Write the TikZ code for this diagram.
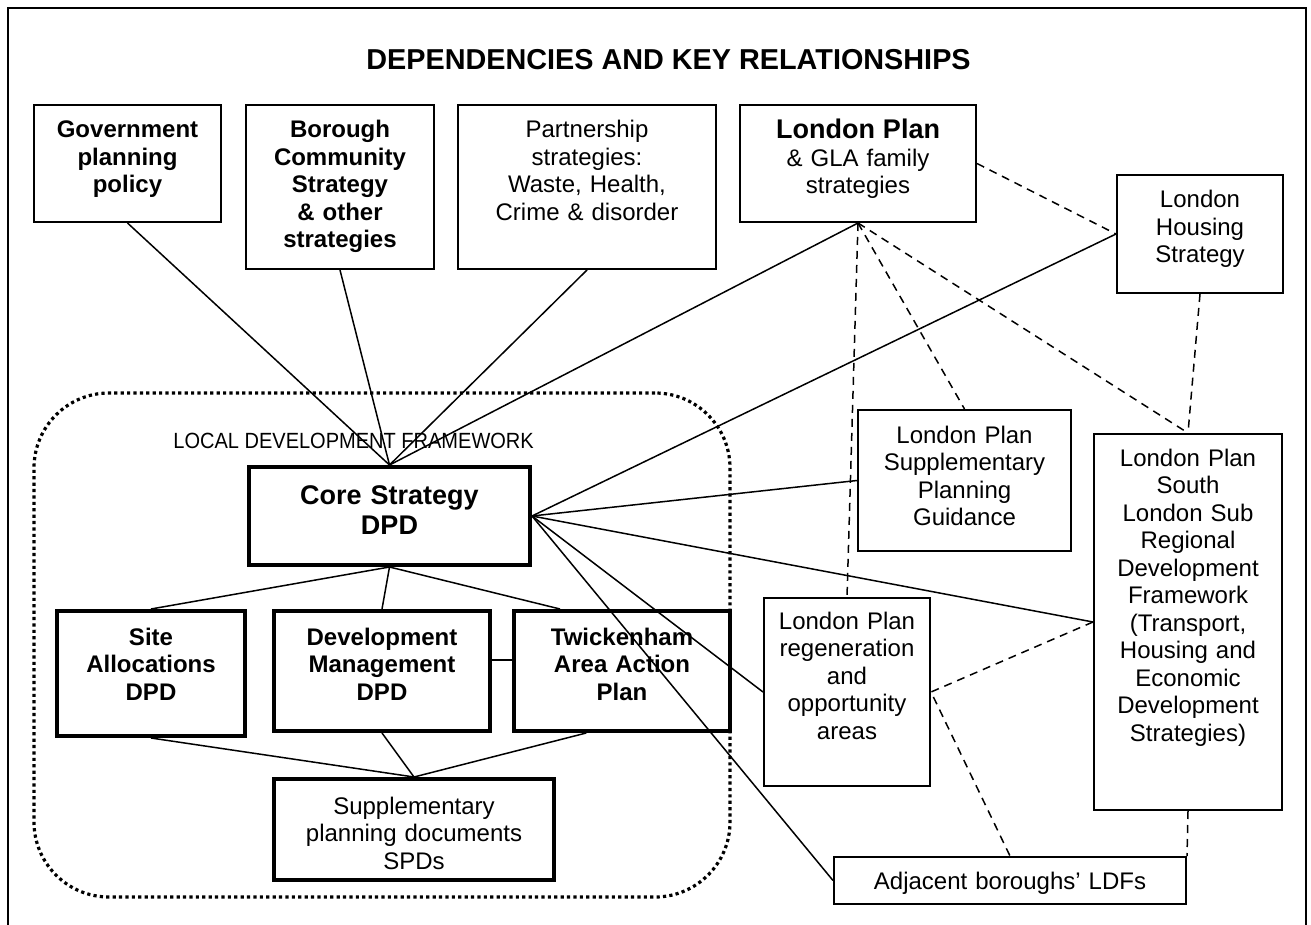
\documentclass[tikz,border=0pt]{standalone}
\usepackage{fontspec}
\setmainfont{Liberation Sans}
\newfontfamily\narrowfont[FakeStretch=0.91]{Liberation Sans}

\begin{document}
\begin{tikzpicture}[x=0.5pt, y=-0.5pt,
    box/.style={draw, line width=1pt, anchor=north, align=center, inner sep=0pt, text height=16.5pt, font=\fontsize{12}{13.75}\selectfont},
    bbox/.style={box, font=\fontsize{12}{13.75}\selectfont\bfseries},
    thickbox/.style={box, line width=2pt},
    link/.style={line width=0.75pt},
    dlink/.style={line width=0.75pt, dash pattern=on 4pt off 3pt}]
    %tikz dependencies
    \useasboundingbox (0,0) rectangle (1311,925);
    \draw[line width=1pt] (8,925) -- (8,8) -- (1306,8) -- (1306,925);
    \node[anchor=base, font=\fontsize{14.4}{16}\selectfont\bfseries] at (668.5,70) (T){DEPENDENCIES AND KEY RELATIONSHIPS};
    \node[draw, line width=1.6pt, dash pattern=on 1.6pt off 1.6pt, rounded corners=37.5pt, minimum width=348pt, minimum height=252pt] at (382,645) (LDF){};
    \node[anchor=base west, inner sep=0pt, font=\narrowfont\fontsize{11}{13}\selectfont] at (173,448) (LDFt){LOCAL DEVELOPMENT FRAMEWORK};
    % top row
    \node[bbox, text width=93.5pt, text depth=42pt] at (127.5,104) (Gov){Government\\planning\\policy};
    \node[bbox, text width=94pt, text depth=65.5pt] at (340,104) (Bor){Borough\\Community\\Strategy\\\& other\\strategies};
    \node[box, text width=129pt, text depth=65.5pt] at (587,104) (Part){Partnership\\strategies:\\Waste, Health,\\Crime \& disorder};
    \node[box, text width=118pt, text height=17pt, text depth=41.5pt] at (858,104) (LP){{\fontsize{13.5}{15}\selectfont\bfseries London Plan}\\\& GLA family\\strategies};
    \node[box, text width=83pt, text depth=42.5pt] at (1200,174) (LHS){London\\Housing\\Strategy};
    % london plan family
    \node[box, text width=106.5pt, text depth=54pt] at (964.5,409) (SPG){London Plan\\Supplementary\\Planning\\Guidance};
    \node[box, text width=94pt, text height=16pt, text depth=172pt] at (1188,433) (SLP){London Plan\\South\\London Sub\\Regional\\Development\\Framework\\(Transport,\\Housing and\\Economic\\Development\\Strategies)};
    \node[box, text width=83pt, text height=15.5pt, text depth=78.5pt] at (847,597) (Reg){London Plan\\regeneration\\and\\opportunity\\areas};
    \node[box, text width=176pt, text height=16pt, text depth=7.5pt] at (1010,856) (Adj){Adjacent boroughs’ LDFs};
    % local development framework
    \node[thickbox, font=\fontsize{13.5}{15}\selectfont\bfseries, text width=140.5pt, text height=18.5pt, text depth=30.5pt] at (389.5,465) (CS){Core Strategy\\DPD};
    \node[thickbox, font=\fontsize{12}{13.75}\selectfont\bfseries, text width=94pt, text height=17pt, text depth=45.5pt] at (151,609) (SA){Site\\Allocations\\DPD};
    \node[thickbox, font=\fontsize{12}{13.75}\selectfont\bfseries, text width=108pt, text height=17pt, text depth=43pt] at (382,609) (DM){Development\\Management\\DPD};
    \node[thickbox, font=\fontsize{12}{13.75}\selectfont\bfseries, text width=108pt, text height=17pt, text depth=43pt] at (622,609) (TAAP){Twickenham\\Area Action\\Plan};
    \node[thickbox, text width=140pt, text height=17.5pt, text depth=33pt] at (414,777) (SPD){Supplementary\\planning documents\\SPDs};
    % solid links
    \foreach \n in {Gov, Bor, Part, LP} \draw[link] (\n.south) -- (CS.north);
    \foreach \n in {LHS, SPG, SLP, Reg, Adj} \draw[link] (CS.east) -- (\n.west);
    \foreach \n in {SA, DM} \draw[link] (CS.south) -- (\n.north);
    \draw[link] (CS.south) -- (TAAP.135);
    \draw[link] ([yshift=5.5pt]DM.east) -- ([yshift=5.5pt]TAAP.west);
    \foreach \n in {SA.south, DM.south, TAAP.240} \draw[link] (\n) -- (SPD.north);
    % dashed links
    \draw[dlink] (LP.east) -- (LHS.west);
    \foreach \n in {SPG, SLP, Reg} \draw[dlink] (LP.south) -- (\n.north);
    \draw[dlink] (LHS.south) -- (SLP.north);
    \draw[dlink] (SLP.west) -- (Reg.east) -- (Adj.north);
    \draw[dlink] (SLP.south) -- (Adj.north east);
\end{tikzpicture}
\end{document}
